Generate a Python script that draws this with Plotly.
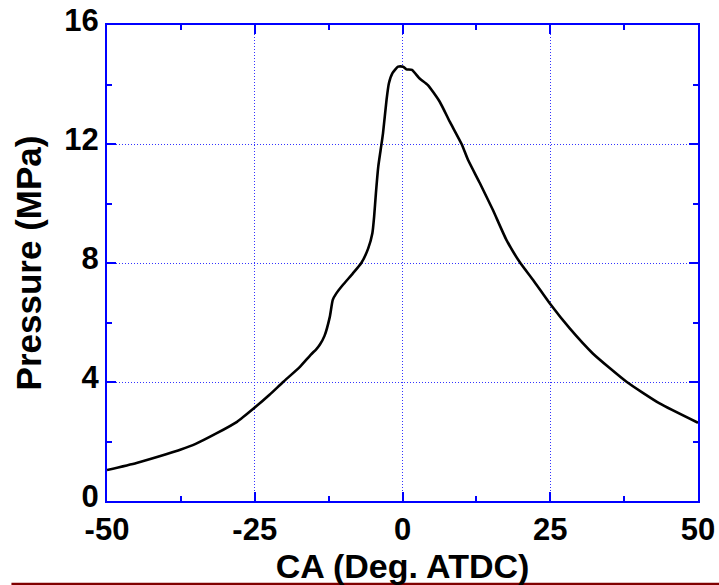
import plotly.graph_objects as go

crank_angle = [-50, -45, -40, -37.5, -35, -31.5, -28, -25, -22.5, -20.2, -17.4, -15.5,
               -14.6, -14.0, -13.2, -12.3, -11.8, -11.2, -10.1, -8.4, -7.0, -5.8, -5.1,
               -4.8, -4.5, -4.1, -3.7, -3.3, -2.7, -2.3, -1.7, -0.75, 0.1, 0.66, 1.6,
               2.9, 4.3, 6.3, 8.0, 10.0, 11.1, 13.1, 15.3, 17.6, 20.0, 22.1, 25.0, 28.3,
               32.2, 37.9, 43.5, 50]
pressure = [1.04, 1.28, 1.57, 1.73, 1.92, 2.27, 2.66, 3.14, 3.57, 4.0, 4.5, 4.92,
            5.1, 5.25, 5.55, 6.19, 6.76, 6.98, 7.26, 7.65, 7.99, 8.49, 9.0,
            9.56, 10.34, 11.24, 11.8, 12.36, 13.48, 14.04, 14.38, 14.6, 14.6, 14.51, 14.49,
            14.2, 13.98, 13.42, 12.75, 12.0, 11.46, 10.68, 9.78, 8.77, 7.98, 7.43, 6.62, 5.8,
            4.96, 4.01, 3.28, 2.63]

x_ticks = [-50, -25, 0, 25, 50]
y_ticks = [0, 4, 8, 12, 16]

FONT = "Liberation Sans, Arial, sans-serif"

fig = go.Figure()
fig.add_trace(go.Scatter(x=crank_angle, y=pressure, mode="lines",
                         line=dict(color="black", width=2.6, shape="spline", smoothing=0.5),
                         showlegend=False))

axis_common = dict(
    showline=True, linecolor="#0000FF", linewidth=2, mirror="ticks",
    ticks="inside", ticklen=9, tickwidth=2, tickcolor="#0000FF",
    showgrid=True, gridcolor="#3333FF", gridwidth=1, griddash="1px,2px",
    zeroline=False,
    tickfont=dict(family=FONT, size=31, color="black", weight="bold"),
)

fig.update_xaxes(
    **axis_common,
    range=[-50, 50], tickvals=x_ticks, ticktext=[str(v) for v in x_ticks],
    minor=dict(tickvals=[-37.5, -12.5, 12.5, 37.5], ticklen=5, tickwidth=2,
               tickcolor="#0000FF", ticks="inside", showgrid=False),
    ticklabelstandoff=0,
    title=dict(text="CA (Deg. ATDC)", standoff=0,
               font=dict(family=FONT, size=34, color="black", weight="bold")),
)
fig.update_yaxes(
    **axis_common,
    range=[0, 16], tickvals=y_ticks, ticktext=[str(v) for v in y_ticks],
    minor=dict(tickvals=[2, 6, 10, 14], ticklen=5, tickwidth=2,
               tickcolor="#0000FF", ticks="inside", showgrid=False),
    ticklabelshift=-5,
    title=dict(text="Pressure (MPa)", standoff=12,
               font=dict(family=FONT, size=35, color="black", weight="bold")),
)

fig.add_shape(type="line", xref="paper", yref="paper",
              x0=-0.1617, x1=1.04, y0=-0.1744, y1=-0.1744,
              line=dict(color="#800000", width=2.5))

fig.update_layout(
    width=719, height=585,
    margin=dict(l=107, r=21, t=25, b=84, autoexpand=False),
    paper_bgcolor="white", plot_bgcolor="white",
    font=dict(family=FONT, color="black"),
)

fig.write_html("out.html")
